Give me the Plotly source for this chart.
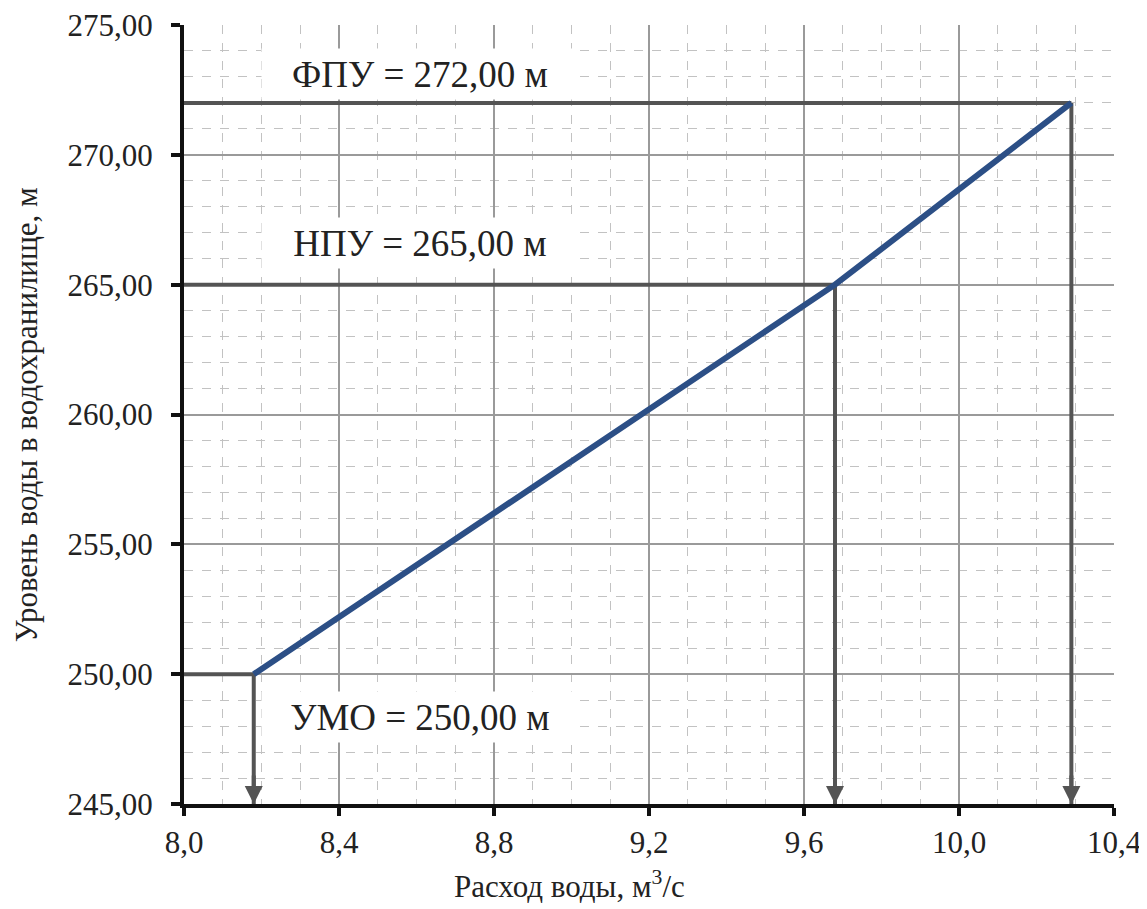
import plotly.graph_objects as go

# ---- data ----
discharge = [8.18, 9.68, 10.29]          # Расход воды, м3/с
level = [250.00, 265.00, 272.00]         # Уровень воды, м
level_names = ["УМО", "НПУ", "ФПУ"]
label_offsets = [-1.65, 1.6, 1.1]        # label placement relative to level

x_ticks = [8.0, 8.4, 8.8, 9.2, 9.6, 10.0, 10.4]
x_ticktext = ["8,0", "8,4", "8,8", "9,2", "9,6", "10,0", "10,4"]
y_ticks = [245, 250, 255, 260, 265, 270, 275]
y_ticktext = ["245,00", "250,00", "255,00", "260,00", "265,00", "270,00", "275,00"]

x_min, x_max = 8.0, 10.4
y_min, y_max = 245, 275

FONT = "Liberation Serif"
REF_COLOR = "#545454"
LINE_COLOR = "#2c4f86"
TXT = "#222222"

fig = go.Figure()

# reference lines: horizontal from axis to curve, vertical from curve to axis
for q, z in zip(discharge, level):
    fig.add_trace(go.Scatter(x=[x_min, q], y=[z, z], mode="lines",
                             line=dict(color=REF_COLOR, width=4),
                             hoverinfo="skip", showlegend=False))
    fig.add_trace(go.Scatter(x=[q, q], y=[z, y_min], mode="lines",
                             line=dict(color=REF_COLOR, width=4),
                             hoverinfo="skip", showlegend=False))

# main curve
fig.add_trace(go.Scatter(x=discharge, y=level, mode="lines",
                         line=dict(color=LINE_COLOR, width=6),
                         showlegend=False))

# arrow heads at the bottom axis
for q, z in zip(discharge, level):
    fig.add_annotation(x=q, y=y_min, ax=0, ay=-30, axref="pixel", ayref="pixel",
                       xref="x", yref="y", text="", showarrow=True,
                       arrowhead=2, arrowsize=0.9, arrowwidth=4,
                       arrowcolor=REF_COLOR, standoff=0)

# level labels with white boxes
for name, z, off in zip(level_names, level, label_offsets):
    txt = f"{name} = {z:.2f} м".replace(".", ",")
    fig.add_annotation(x=8.61, y=z + off, xref="x", yref="y", text=txt,
                       showarrow=False, bgcolor="white", width=312, height=46,
                       borderpad=2, align="center", xanchor="center",
                       yanchor="middle",
                       font=dict(family=FONT, size=37, color=TXT))

# axis titles
fig.add_annotation(x=0.415, y=-0.103, xref="paper", yref="paper",
                   xanchor="center", yanchor="middle",
                   text="Расход воды, м<sup>3</sup>/с", showarrow=False,
                   font=dict(family=FONT, size=31, color=TXT))
fig.add_annotation(x=-0.169, y=0.5, xref="paper", yref="paper",
                   xanchor="center", yanchor="middle",
                   text="Уровень воды в водохранилище, м", textangle=-90,
                   showarrow=False,
                   font=dict(family=FONT, size=31, color=TXT))

fig.update_xaxes(range=[x_min, x_max], tickmode="array", tickvals=x_ticks,
                 ticktext=x_ticktext, ticks="outside", ticklen=8, tickwidth=4,
                 tickcolor="#111111", showline=True, linewidth=4,
                 linecolor="#111111", showgrid=True, gridcolor="#9a9a9a",
                 gridwidth=1.5, zeroline=False, ticklabelstandoff=0,
                 automargin=False, ticklabeloverflow="allow",
                 tickfont=dict(family=FONT, size=31, color=TXT),
                 minor=dict(tickmode="linear", tick0=8.0, dtick=0.1,
                            showgrid=True, gridcolor="#c2c2c2",
                            griddash="dash", gridwidth=1, ticks=""))
fig.update_yaxes(range=[y_min, y_max], tickmode="array", tickvals=y_ticks,
                 ticktext=y_ticktext, ticks="outside", ticklen=9, tickwidth=4,
                 tickcolor="#111111", showline=True, linewidth=4,
                 linecolor="#111111", showgrid=True, gridcolor="#9a9a9a",
                 gridwidth=1.5, zeroline=False, ticklabelstandoff=12,
                 automargin=False, ticklabeloverflow="allow",
                 tickfont=dict(family=FONT, size=31, color=TXT),
                 minor=dict(tickmode="linear", tick0=245, dtick=1,
                            showgrid=True, gridcolor="#c2c2c2",
                            griddash="dash", gridwidth=1, ticks=""))

fig.update_layout(width=1147, height=909,
                  margin=dict(l=176, r=41, t=17, b=113),
                  plot_bgcolor="white", paper_bgcolor="white",
                  font=dict(family=FONT), showlegend=False)

fig.write_html("out.html")
